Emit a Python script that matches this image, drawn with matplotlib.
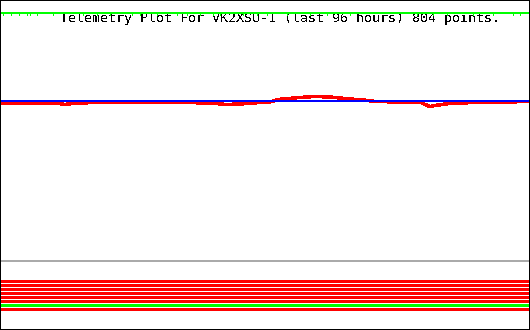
import matplotlib
matplotlib.use("Agg")
import matplotlib.pyplot as plt
from matplotlib.patches import Rectangle

# telemetry for the last 96 hours (hours relative to now)
red_hours = [-95.8, -90.6, -86.0, -84.2, -82.4, -77.9, -70.6, -63.4, -57.6, -55.1,
             -52.5, -50.4, -47.1, -45.6, -43.8, -41.7, -39.0, -36.2, -34.4, -32.6,
             -30.2, -28.1, -23.5, -19.9, -18.8, -18.1, -17.2, -15.4, -13.6, -9.1,
             -4.5, -0.4]
red_values = [158, 157.5, 158, 156.5, 158, 158.5, 158.5, 158.5, 158, 156.5,
              157, 158, 159, 161.5, 162.5, 163.5, 164.5, 164, 163, 162,
              161, 159.5, 159, 159, 156, 154.5, 155.5, 157, 158, 158.5,
              159, 159.5]

blue_hours = [-95.8, -72.0, -48.0, -24.0, -0.2]
blue_values = [160, 160, 160, 160, 160]

green_hours = [-95.8, -0.2]
green_values = [248, 248]
green_dips = [-95.5, -94.0, -92.6, -91.1, -90.6, -89.3, -86.4, -81.0, -78.4, -76.1,
              -72.1, -70.6, -67.6, -63.9, -62.1, -59.8, -57.4, -56.2, -52.0, -49.4,
              -47.6, -44.0, -39.8, -36.8, -32.6, -20.5, -17.6, -15.0, -10.3, -6.7,
              -3.1, -1.8]

bits = [0, 0, 0, 0, 0, 0, 1, 0]
bit_colors = {0: "#ff0000", 1: "#00ff00"}

title = "Telemetry Plot For VK2XSU-1 (last 96 hours) 804 points."

plt.rcParams["text.antialiased"] = False
px = 72 / 100  # one pixel in points

fig = plt.figure(figsize=(5.3, 3.3), dpi=100)
fig.patch.set_facecolor("white")

# analog channels
ax = fig.add_axes([0, 69 / 330, 1, 255 / 330])
ax.set_xlim(-96, 0)
ax.set_ylim(0, 255)
ax.axis("off")
ax.axhline(0, color="#aaaaaa", lw=2 * px, antialiased=False, clip_on=False)
ax.plot(red_hours, red_values, color="#ff0000", lw=2.5 * px, antialiased=False, zorder=3)
ax.plot(blue_hours, blue_values, color="#0000ff", lw=2 * px, antialiased=False, zorder=4)
ax.plot(green_hours, green_values, color="#00ff00", lw=2 * px, antialiased=False,
        zorder=5, clip_on=False)
ax.vlines(green_dips, 246.5, 248, color="#00ff00", lw=1 * px, antialiased=False,
          zorder=5, clip_on=False)
ax.text(60 / 530, 1 - 21.7 / 330, title, transform=fig.transFigure,
        family="DejaVu Sans Mono", fontsize=9.6, color="black",
        ha="left", va="baseline", zorder=1)

# digital bits
bx = fig.add_axes([0, 18 / 330, 1, 32 / 330])
bx.set_xlim(-96, 0)
bx.set_ylim(8, 0)
bx.axis("off")
for i, b in enumerate(bits):
    bx.barh(i, 95.8, left=-95.8, height=0.75, align="edge",
            color=bit_colors[b], antialiased=False)

fig.patches.append(Rectangle((0, 0), 1, 1, transform=fig.transFigure, fill=False,
                             edgecolor="black", lw=2 * px, zorder=10))

fig.savefig("out.png", dpi=100)
